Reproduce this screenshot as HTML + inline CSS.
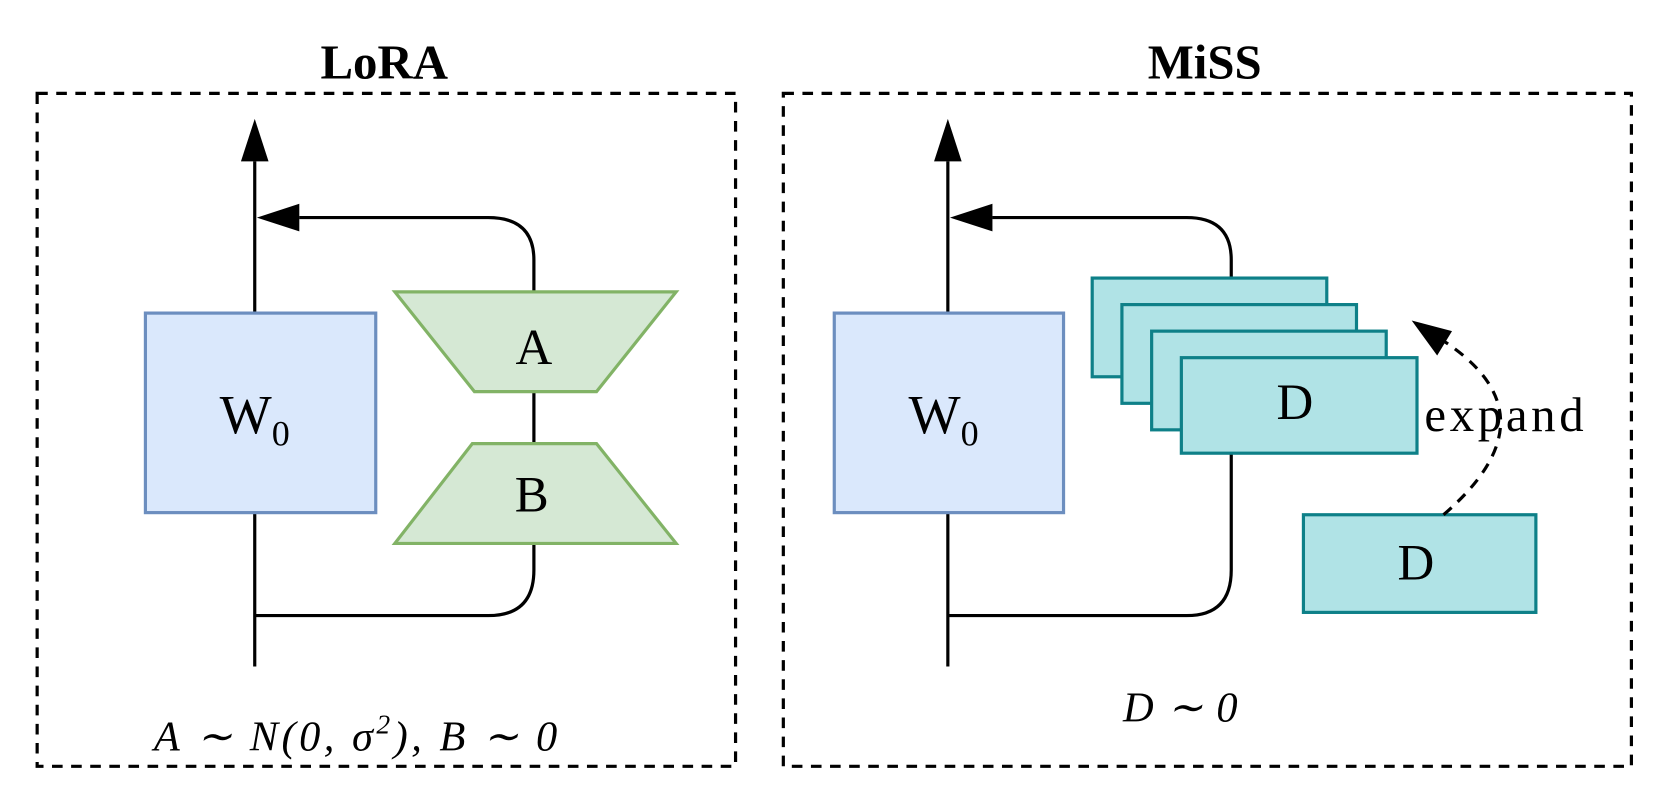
<!DOCTYPE html>
<html><head><style>html,body{margin:0;padding:0;background:#fff;}svg{display:block}</style></head>
<body>
<svg width="1659" height="789" viewBox="0 0 1563 743.4" preserveAspectRatio="none" xmlns="http://www.w3.org/2000/svg" font-family="Liberation Serif, serif">
<text x="362" y="74" font-size="46" font-weight="bold" text-anchor="middle">LoRA</text>
<text x="1135" y="74" font-size="46" font-weight="bold" text-anchor="middle">MiSS</text>
<rect x="35" y="88" width="658" height="634" fill="none" stroke="#000" stroke-width="3" stroke-dasharray="10,8"/>
<rect x="738" y="88" width="799" height="634" fill="none" stroke="#000" stroke-width="3" stroke-dasharray="10,8"/>

<!-- LoRA -->
<line x1="240" y1="628" x2="240" y2="152" stroke="#000" stroke-width="3"/>
<path d="M240,112 L253,152 L227,152 Z"/>
<path d="M240,580 L460,580 Q503,580 503,537 L503,512" fill="none" stroke="#000" stroke-width="3"/>
<line x1="503" y1="369" x2="503" y2="418" stroke="#000" stroke-width="3"/>
<path d="M503,275 L503,245 Q503,205 460,205 L282,205" fill="none" stroke="#000" stroke-width="3"/>
<path d="M242,205 L282,192 L282,218 Z"/>
<rect x="137" y="295" width="217" height="188" fill="#dae8fc" stroke="#6c8ebf" stroke-width="3"/>
<text x="240" y="408" font-size="52" text-anchor="middle">W<tspan font-size="34" dy="12">0</tspan></text>
<path d="M372,275 L637,275 L562,369 L447,369 Z" fill="#d5e8d4" stroke="#82b366" stroke-width="3"/>
<text x="503" y="343" font-size="48" text-anchor="middle">A</text>
<path d="M445,418 L562,418 L637,512 L372,512 Z" fill="#d5e8d4" stroke="#82b366" stroke-width="3"/>
<text x="501" y="482" font-size="48" text-anchor="middle">B</text>
<text x="335" y="707" font-size="40" text-anchor="middle" font-style="italic" textLength="380">A ∼ N(0, σ<tspan font-size="26" dy="-16">2</tspan><tspan dy="16">), B ∼ 0</tspan></text>

<!-- MiSS -->
<line x1="893" y1="628" x2="893" y2="152" stroke="#000" stroke-width="3"/>
<path d="M893,112 L906,152 L880,152 Z"/>
<path d="M893,580 L1118,580 Q1160,580 1160,537 L1160,425" fill="none" stroke="#000" stroke-width="3"/>
<path d="M1160,262 L1160,245 Q1160,205 1118,205 L935,205" fill="none" stroke="#000" stroke-width="3"/>
<path d="M895,205 L935,192 L935,218 Z"/>
<rect x="786" y="295" width="216" height="188" fill="#dae8fc" stroke="#6c8ebf" stroke-width="3"/>
<text x="889" y="408" font-size="52" text-anchor="middle">W<tspan font-size="34" dy="12">0</tspan></text>
<rect x="1029" y="262" width="221" height="93" fill="#b0e3e6" stroke="#0e8088" stroke-width="3"/>
<rect x="1057" y="287" width="221" height="93" fill="#b0e3e6" stroke="#0e8088" stroke-width="3"/>
<rect x="1085" y="312" width="221" height="93" fill="#b0e3e6" stroke="#0e8088" stroke-width="3"/>
<rect x="1113" y="337" width="222" height="90" fill="#b0e3e6" stroke="#0e8088" stroke-width="3"/>
<text x="1220" y="395" font-size="48" text-anchor="middle">D</text>
<rect x="1228" y="485" width="219" height="92" fill="#b0e3e6" stroke="#0e8088" stroke-width="3"/>
<text x="1334" y="546" font-size="48" text-anchor="middle">D</text>
<path d="M1360,485 Q1470,390 1355,318" fill="none" stroke="#000" stroke-width="3" stroke-dasharray="10,8"/>
<path d="M1330,302 L1368,312 L1354,335 Z"/>
<text x="1417" y="406" font-size="46" text-anchor="middle" textLength="150">expand</text>
<text x="1112" y="680" font-size="40" text-anchor="middle" font-style="italic" textLength="108">D ∼ 0</text>
</svg>
</body></html>
